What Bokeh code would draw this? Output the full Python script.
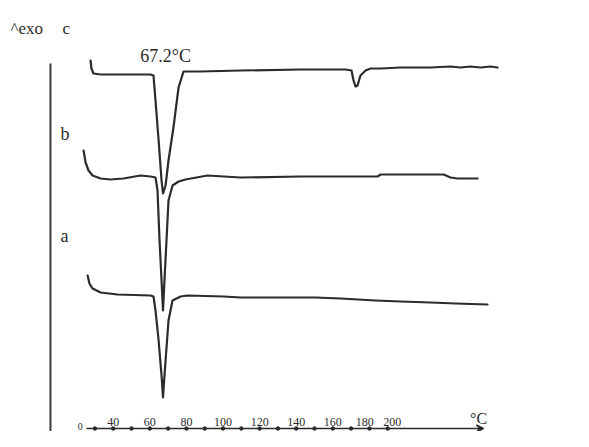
from bokeh.plotting import figure
from bokeh.models import Range1d, Label, Arrow, VeeHead
from bokeh.core.properties import value
from bokeh.embed import file_html
from bokeh.resources import INLINE

# ---- data (temperature in °C, heat flow in arbitrary units) ----
temp_c = [27.6, 28.1, 29.2, 33.1, 44.0, 60.4, 62.0, 63.1, 64.8, 66.4, 67.2, 68.6, 70.2, 72.9,
          75.7, 78.4, 87.7, 109.6, 142.3, 166.9, 170.2, 171.3, 172.4, 173.5, 175.1, 177.9,
          180.6, 186.1, 197.0, 213.4, 224.3, 229.8, 235.2, 240.7, 246.2, 250.0]
heat_c = [387, 379, 374, 373, 373, 373, 372, 347, 307, 267, 254, 262, 287, 320,
          360, 376, 376, 377, 378, 378, 377, 367, 361, 362, 372, 377,
          379, 379, 380, 380, 381, 380, 381, 380, 381, 380]

temp_b = [23.8, 24.9, 26.5, 28.7, 33.1, 38.5, 45.6, 54.9, 60.4, 63.1, 64.2, 65.3, 66.4, 67.2,
          68.0, 69.1, 70.2, 72.4, 75.7, 79.5, 91.5, 109.6, 142.3, 184.4, 186.1, 220.5,
          224.3, 228.1, 239.1]
heat_b = [297, 285, 277, 272, 269, 268, 269, 272, 271, 270, 257, 207, 167, 137,
          167, 207, 247, 262, 266, 268, 272, 270, 271, 271, 273, 273,
          270, 269, 269]

temp_a = [26.0, 27.0, 28.7, 33.1, 42.3, 60.4, 62.0, 63.1, 64.8, 66.4, 67.2, 68.0, 68.6, 70.2,
          72.4, 76.8, 80.6, 100.3, 109.6, 142.3, 150.5, 164.2, 183.3, 197.0, 213.4, 227.0, 244.5]
heat_a = [172, 164, 159, 155, 153, 152, 151, 137, 107, 72, 50, 72, 87, 127,
          147, 151, 152, 151, 150, 150, 150, 149, 147, 146, 145, 144, 143]

tick_temps = [30, 40, 50, 60, 70, 80, 90, 100, 110, 120, 130, 140, 150, 160, 170, 180, 190]
tick_label_temps = [40, 60, 80, 100, 120, 140, 160, 177.5, 192.5]
tick_labels = ["40", "60", "80", "100", "120", "140", "160", "180", "200"]
peak_label = "67.2°C"
curve_names = ["a", "b", "c"]

# ---- figure ----
ink = "#2b2b2b"
serif = value("Liberation Serif")

p = figure(width=573, height=431, x_range=Range1d(-21.6, 291.5), y_range=Range1d(16, 447),
           output_backend="svg", toolbar_location=None, min_border=0,
           x_axis_type=None, y_axis_type=None)
p.grid.visible = False
p.outline_line_color = None
p.background_fill_color = "white"
p.border_fill_color = "white"

for t, h in [(temp_c, heat_c), (temp_b, heat_b), (temp_a, heat_a)]:
    p.line(t, h, line_color=ink, line_width=2.2, line_join="round", line_cap="round")

# vertical reference line at the left
vx = 5.7
p.line([vx, vx], [0, 384], line_color="#3a3a3a", line_width=2)

# temperature axis drawn as in the original sketch
axis_y = 19
p.add_layout(Arrow(x_start=25.4, y_start=axis_y, x_end=242.3, y_end=axis_y,
                   line_color=ink, line_width=1.5,
                   end=VeeHead(size=7, line_color=ink, line_width=1.5)))
p.scatter(tick_temps, [axis_y] * len(tick_temps), size=3.5, color=ink)
p.text(tick_label_temps, [26] * len(tick_label_temps), text=tick_labels,
       text_font=serif, text_font_size=value("12px"), text_color=ink,
       text_align="center", text_baseline="alphabetic")

def lab(x, y, txt, size, align="left", baseline="alphabetic"):
    p.add_layout(Label(x=x, y=y, text=txt, text_font="Liberation Serif",
                       text_font_size=size, text_color=ink,
                       text_align=align, text_baseline=baseline))

lab(22.0, 17.5, "0", "10px", "center", "bottom")
lab(239.6, 29, "°C", "16px", "center")
lab(-16.1, 419, "^exo", "17px")
lab(12.3, 419, curve_names[2], "17px")
lab(68.6, 392, peak_label, "18px", "center")
lab(11.2, 314, curve_names[1], "18px")
lab(11.2, 212, curve_names[0], "18px")

open("out.html", "w").write(file_html(p, INLINE))
